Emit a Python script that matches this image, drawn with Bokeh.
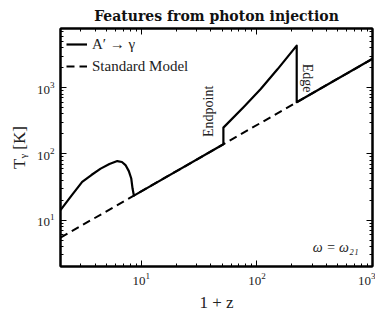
import math
from bokeh.plotting import figure
from bokeh.models import Range1d, LogAxis, LogTicker, Label, Legend, LegendItem
from bokeh.embed import file_html
from bokeh.resources import INLINE

# data
sm_x = [2.0, 1000.0]
sm_T = [5.45, 2725.0]

inj_x = [2.0, 2.48, 3.08, 3.7, 4.45, 5.3, 6.2, 6.8, 7.3, 7.8, 8.19, 8.4, 8.63,
         51.3, 51.3, 77.3, 107.9, 150.6, 221.0, 221.0, 1000.0]
inj_T = [14.2, 23.3, 37.9, 48.0, 60.0, 70.5, 78.0, 75.5, 67.8, 55.0, 42.5, 30.0, 23.5,
         139.8, 249.0, 516.0, 955.0, 1888.0, 4305.0, 602.0, 2725.0]

title_text = "Features from photon injection"
x_label = "1 + z"
y_label = "Tᵧ [K]"
legend_labels = ["A′ → γ", "Standard Model"]
notes = ["Endpoint", "Edge", "ω = ω₂₁"]

FONT = "Liberation Serif"

p = figure(x_axis_type="log", y_axis_type="log",
           x_range=Range1d(2, 1000), y_range=Range1d(2, 7800),
           frame_width=312, frame_height=238,
           min_border_left=60, min_border_right=3, min_border_top=19, min_border_bottom=44,
           output_backend="svg", toolbar_location=None,
           title=title_text)
p.title.align = "center"
p.title.text_font = "DejaVu Serif"
p.title.text_font_size = "14px"
p.title.text_font_style = "bold"
p.title.text_color = "#111111"
p.title.standoff = 10
p.title.offset = 0
p.grid.visible = False
p.outline_line_color = "black"
p.outline_line_width = 2

def style_axis(ax, labels=True):
    ax.axis_line_color = "black"
    ax.axis_line_width = 2
    ax.major_tick_in = 6
    ax.major_tick_out = 0
    ax.minor_tick_in = 3
    ax.minor_tick_out = 0
    ax.major_tick_line_color = "black"
    ax.minor_tick_line_color = "black"
    ax.major_label_text_font = FONT
    ax.major_label_text_color = "#222222"
    ax.axis_label_text_font = FONT
    ax.axis_label_text_font_size = "17px"
    ax.axis_label_text_font_style = "normal"
    ax.axis_label_text_color = "#222222"
    if labels:
        ax.major_label_text_font_size = "13px"
    else:
        ax.major_label_text_font_size = "1px"
        ax.major_label_text_alpha = 0
        ax.major_label_standoff = 0

style_axis(p.xaxis[0])
style_axis(p.yaxis[0])
p.xaxis[0].axis_label = x_label
p.yaxis[0].axis_label = y_label
p.xaxis[0].major_label_standoff = 6
p.yaxis[0].major_label_standoff = 6

top = LogAxis(ticker=LogTicker(num_minor_ticks=10))
right = LogAxis(ticker=LogTicker(num_minor_ticks=10))
style_axis(top, labels=False)
style_axis(right, labels=False)
p.add_layout(top, "above")
p.add_layout(right, "right")

r_sm = p.line(sm_x, sm_T, line_color="black", line_width=2, line_dash="8 5")
r_inj = p.line(inj_x, inj_T, line_color="black", line_width=2.2, line_join="round")

legend = Legend(items=[LegendItem(label=legend_labels[0], renderers=[r_inj]),
                       LegendItem(label=legend_labels[1], renderers=[r_sm])],
                location="top_left")
legend.border_line_color = None
legend.background_fill_alpha = 0
legend.label_text_font = FONT
legend.label_text_font_size = "15px"
legend.label_text_color = "#222222"
legend.glyph_width = 21
legend.spacing = 2
legend.padding = 6
legend.margin = 6
p.add_layout(legend)

p.add_layout(Label(x=44.0, y=180.0, text=notes[0], angle=math.pi / 2,
                   text_align="left", text_baseline="bottom",
                   text_font=FONT, text_font_size="14px", text_color="#222222"))
p.add_layout(Label(x=236.0, y=2300.0, text=notes[1], angle=-math.pi / 2,
                   text_align="left", text_baseline="bottom",
                   text_font=FONT, text_font_size="14px", text_color="#222222"))
p.add_layout(Label(x=760.0, y=3.85, text=notes[2],
                   text_align="right", text_baseline="middle",
                   text_font=FONT, text_font_size="14px", text_font_style="italic",
                   text_color="#222222"))

open("out.html", "w").write(file_html(p, INLINE))
